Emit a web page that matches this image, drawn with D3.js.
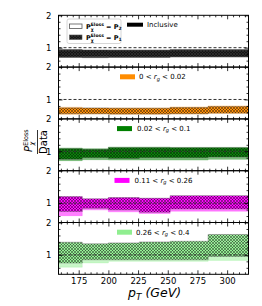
<!DOCTYPE html>
<html><head><meta charset="utf-8">
<script src="https://cdn.jsdelivr.net/npm/d3@7"></script>
<style>body{margin:0;background:#fff}svg{display:block}text{font-family:"DejaVu Sans",sans-serif}</style>
</head><body>
<script>
// ---- data ----
const binEdges = [158, 178, 200, 226, 252, 284, 318];
const panelNames = ["Inclusive", "0 < r_g < 0.02", "0.02 < r_g < 0.1", "0.11 < r_g < 0.26", "0.26 < r_g < 0.4"];
const panelColors = ["#000000", "#ff8c00", "#008000", "#ff00ff", "#90ee90"];
// P1 (hatched) bands per panel, per pT bin
const p1Low  = [[0.71,0.72,0.71,0.71,0.72,0.72],[0.56,0.56,0.55,0.55,0.56,0.58],[0.75,0.80,0.78,0.80,0.80,0.82],[0.74,0.84,0.79,0.72,0.82,0.82],[0.75,0.85,0.85,0.85,0.85,0.95]];
const p1High = [[0.93,0.93,0.92,0.92,0.93,0.93],[0.74,0.74,0.73,0.73,0.75,0.78],[1.08,1.06,1.11,1.11,1.11,1.11],[1.20,1.13,1.17,1.15,1.23,1.23],[1.39,1.34,1.37,1.40,1.42,1.63]];
// P2 (open) bands per panel
const p2Low  = [[0.70,0.69,0.70,0.70,0.71,0.71],[0.54,0.55,0.54,0.54,0.55,0.57],[0.71,0.74,0.73,0.73,0.73,0.75],[0.61,0.79,0.73,0.68,0.75,0.75],[0.62,0.75,0.80,0.80,0.80,0.83]];
const p2High = [[0.94,0.92,0.93,0.93,0.94,0.94],[0.76,0.73,0.74,0.74,0.77,0.80],[1.10,1.08,1.13,1.13,1.12,1.12],[1.18,1.12,1.15,1.14,1.21,1.21],[1.20,1.20,1.22,1.22,1.22,1.30]];
const xTickValues = [175, 200, 225, 250, 275, 300];
const yTickValues = [1, 2];
const legendLabels = ["2", "1"];

// ---- layout ----
const W = 262, H = 306;
const left = 58.5, right = 248.5, top0 = 15.3, ph = 51.8;
const svg = d3.select("body").append("svg").attr("width", W).attr("height", H);
const x = d3.scaleLinear().domain([158, 318]).range([left, right]);

const defs = svg.append("defs");
panelColors.forEach((c, i) => {
  const p = defs.append("pattern").attr("id", "h" + i).attr("patternUnits", "userSpaceOnUse")
    .attr("width", 3).attr("height", 3);
  p.append("rect").attr("width", 3).attr("height", 3).attr("fill", i === 0 ? "#151515" : c);
  p.append("path").attr("d", "M0,0L3,3M3,0L0,3").attr("stroke", i === 0 ? "#2e2e2e" : "#000")
    .attr("stroke-width", 0.8).attr("stroke-opacity", i === 0 ? 1 : 0.55);
});

function stepData(lo, hi) {
  return binEdges.map((e, i) => ({x: e, lo: lo[Math.min(i, lo.length - 1)], hi: hi[Math.min(i, hi.length - 1)]}));
}

panelNames.forEach((name, i) => {
  const top = top0 + i * ph;
  const y = d3.scaleLinear().domain([0.4, 2.0]).range([top + ph, top]);
  const g = svg.append("g");
  const clipId = "c" + i;
  defs.append("clipPath").attr("id", clipId).append("rect")
    .attr("x", left).attr("y", top).attr("width", right - left).attr("height", ph);
  const area = d3.area().curve(d3.curveStepAfter).x(d => x(d.x)).y0(d => y(d.lo)).y1(d => y(d.hi));
  const gc = g.append("g").attr("clip-path", `url(#${clipId})`);
  // P2 band
  gc.append("path").datum(stepData(p2Low[i], p2High[i])).attr("d", area)
    .attr("fill", panelColors[i]).attr("fill-opacity", i === 0 ? 0.75 : 0.5)
    .attr("stroke", panelColors[i]).attr("stroke-opacity", 0.3).attr("stroke-width", 0.8);
  // P1 hatched band
  gc.append("path").datum(stepData(p1Low[i], p1High[i])).attr("d", area)
    .attr("fill", `url(#h${i})`).attr("fill-opacity", i === 0 ? 1 : 0.92)
    .attr("stroke", "#555").attr("stroke-opacity", 0.5).attr("stroke-width", 0.8);
  // dashed line at 1
  gc.append("line").attr("x1", left).attr("x2", right).attr("y1", y(1)).attr("y2", y(1))
    .attr("stroke", "#333").attr("stroke-width", 1).attr("stroke-dasharray", "3,2");

  // y ticks (inside, both sides)
  const yMinor = d3.range(0.6, 1.95, 0.2).filter(v => Math.abs(v - 1) > 0.01);
  const axL = d3.axisLeft(y).tickValues(yTickValues).tickFormat(d3.format("d")).tickSize(-4).tickPadding(7);
  const gl = g.append("g").attr("transform", `translate(${left},0)`).call(axL);
  gl.select(".domain").remove();
  gl.selectAll("text").attr("font-size", 8.5).attr("fill", "#000").attr("font-family", "DejaVu Sans");
  const axLm = d3.axisLeft(y).tickValues(yMinor).tickFormat("").tickSize(-2);
  g.append("g").attr("transform", `translate(${left},0)`).call(axLm).select(".domain").remove();
  const axR = d3.axisRight(y).tickValues(yTickValues).tickFormat("").tickSize(-4);
  g.append("g").attr("transform", `translate(${right},0)`).call(axR).select(".domain").remove();
  const axRm = d3.axisRight(y).tickValues(yMinor).tickFormat("").tickSize(-2);
  g.append("g").attr("transform", `translate(${right},0)`).call(axRm).select(".domain").remove();

  // x ticks top (inward) and bottom (inward)
  const xMinor = d3.range(160, 318, 5).filter(v => v % 25 !== 0);
  const axT = d3.axisTop(x).tickValues(xTickValues).tickFormat("").tickSize(-4);
  g.append("g").attr("transform", `translate(0,${top})`).call(axT).select(".domain").remove();
  const axTm = d3.axisTop(x).tickValues(xMinor).tickFormat("").tickSize(-2);
  g.append("g").attr("transform", `translate(0,${top})`).call(axTm).select(".domain").remove();
  const axB = d3.axisBottom(x).tickValues(xTickValues).tickFormat(i === 4 ? d3.format("d") : "").tickSize(-4).tickPadding(4);
  const gb = g.append("g").attr("transform", `translate(0,${top + ph})`).call(axB);
  gb.select(".domain").remove();
  gb.selectAll("text").attr("font-size", 8.5).attr("fill", "#000").attr("font-family", "DejaVu Sans");
  const axBm = d3.axisBottom(x).tickValues(xMinor).tickFormat("").tickSize(-2);
  g.append("g").attr("transform", `translate(0,${top + ph})`).call(axBm).select(".domain").remove();
  g.selectAll(".tick line").attr("stroke", "#000").attr("stroke-width", 0.8);

  // frame
  g.append("rect").attr("x", left).attr("y", top).attr("width", right - left).attr("height", ph)
    .attr("fill", "none").attr("stroke", "#000").attr("stroke-width", 1);

  // label + swatch
  if (i === 0) {
    g.append("rect").attr("x", 127).attr("y", top + 7.4).attr("width", 16).attr("height", 4).attr("fill", "#000");
    g.append("text").attr("x", 147).attr("y", top + 12).attr("font-size", 7).text(name);
  } else {
    const sx = [0, 120, 117, 114.5, 117][i];
    const tx = [0, 139, 137, 134.5, 136][i];
    g.append("rect").attr("x", sx).attr("y", top + 7.2).attr("width", 15).attr("height", 5).attr("fill", panelColors[i]);
    const parts = name.split("r_g");
    const t = g.append("text").attr("x", tx).attr("y", top + 12).attr("font-size", 7);
    t.append("tspan").text(parts[0]);
    t.append("tspan").attr("font-style", "italic").text("r");
    t.append("tspan").attr("font-size", 5).attr("font-style", "italic").attr("dy", 1.5).text("g");
    t.append("tspan").attr("dy", -1.5).text(parts[1]);
  }
});

// legend (P1/P2)
const lg = svg.append("g");
lg.append("rect").attr("x", 67).attr("y", 19).attr("width", 54).attr("height", 24.5).attr("rx", 2)
  .attr("fill", "#fff").attr("stroke", "#ccc").attr("stroke-width", 0.8);
legendLabels.forEach((lab, k) => {
  const yy = 24 + k * 11;
  if (k === 0) {
    lg.append("rect").attr("x", 69.5).attr("y", yy).attr("width", 12.5).attr("height", 4.5)
      .attr("fill", "#fff").attr("stroke", "#555").attr("stroke-width", 0.8);
  } else {
    lg.append("rect").attr("x", 69.5).attr("y", yy).attr("width", 12.5).attr("height", 4.5)
      .attr("fill", "url(#h0)").attr("stroke", "#555").attr("stroke-width", 0.6);
  }
  const t = lg.append("text").attr("x", 86).attr("y", yy + 4.8).attr("font-size", 6.5).attr("font-weight", "bold");
  t.append("tspan").text("P");
  t.append("tspan").attr("font-size", 4.5).attr("dy", -2.8).text("Eloss");
  t.append("tspan").attr("font-size", 4.5).attr("dx", -13).attr("dy", 4.8).text("χ");
  t.append("tspan").attr("dy", -2).attr("dx", 10).text(" = P");
  t.append("tspan").attr("font-size", 4.5).attr("dy", 1.5).text(lab);
});

// y axis label (fraction)
const yl = svg.append("g").attr("transform", "translate(37.5,142) rotate(-90)");
const num = yl.append("text").attr("x", -10).attr("y", -6).attr("font-size", 10);
num.append("tspan").attr("font-style", "italic").text("P");
num.append("tspan").attr("font-size", 6.5).attr("dy", -4).text("Eloss");
num.append("tspan").attr("font-size", 6.5).attr("font-style", "italic").attr("x", -3.5).attr("dy", 6.5).text("χ");
yl.append("line").attr("x1", -12).attr("x2", 12).attr("y1", 0).attr("y2", 0).attr("stroke", "#000").attr("stroke-width", 0.8);
yl.append("text").attr("x", 0).attr("y", 9.5).attr("text-anchor", "middle").attr("font-size", 10).text("Data");

// x axis label
const xl = svg.append("text").attr("x", 128).attr("y", 297).attr("font-size", 12.5).attr("font-style", "italic");
xl.append("tspan").text("p");
xl.append("tspan").attr("font-size", 9).attr("dy", 3).text("T");
xl.append("tspan").attr("dy", -3).text(" (GeV)");
</script>
</body></html>
